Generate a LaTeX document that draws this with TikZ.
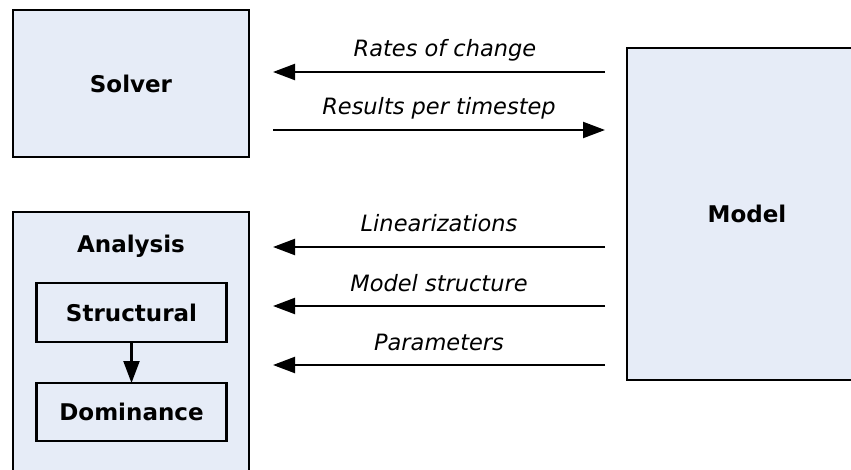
\documentclass[tikz,border=0pt]{standalone}
\usepackage{fontspec}
\setmainfont{DejaVu Sans}
\usetikzlibrary{positioning,arrows.meta}
\definecolor{boxblue}{RGB}{230,236,247}

\begin{document}
\begin{tikzpicture}[x=1pt, y=-1pt,
  block/.style={draw=black, line width=2.4pt, fill=boxblue, inner sep=0pt, outer sep=0pt,
    font=\fontsize{23}{27}\selectfont\bfseries, align=center},
  title/.style={inner sep=0pt, font=\fontsize{23}{27}\selectfont\bfseries},
  flow/.style={line width=2.2pt, -{Triangle[length=22pt, width=16pt]}},
  flowlabel/.style={anchor=base, yshift=15pt, inner sep=0pt,
    font=\fontsize{22.5}{27}\selectfont\itshape}]

  \useasboundingbox (0,0) rectangle (851,470);
  \clip (0,0) rectangle (851,470);

  % Solver and Model, the two ends of the exchange
  \node [block, minimum width=236pt, minimum height=147pt] (solver) at (131,83.5) {Solver};
  \node [block, minimum width=240pt, minimum height=332pt] (model) at (747,214) {Model};

  % Analysis holds the two analysis steps
  \node [block, minimum width=236pt, minimum height=280pt] (analysis) at (131,352) {};
  \node [title] (analysistitle) at (131,246) {Analysis};
  \node [block, minimum width=190pt, minimum height=59pt] (structural) at (131.5,312.5) {Structural};
  \node [block, minimum width=190pt, minimum height=58pt, below=41pt of structural] (dominance) {Dominance};
  \draw [flow] (structural) -- (dominance);

  % where the arrows leave or meet the model
  \coordinate (rates) at (605,72);
  \coordinate (results) at (605,130);
  \coordinate (lin) at (605,247);
  \coordinate (struct) at (605,306);
  \coordinate (params) at (605,365);

  \draw [flow] (rates) -- ([xshift=24pt]rates -| solver.east)
    node [flowlabel, midway, xshift=6pt] {Rates of change};
  \draw [flow] ([xshift=24pt]results -| solver.east) -- (results)
    node [flowlabel, midway] {Results per timestep};
  \draw [flow] (lin) -- ([xshift=24pt]lin -| analysis.east)
    node [flowlabel, midway] {Linearizations};
  \draw [flow] (struct) -- ([xshift=24pt]struct -| analysis.east)
    node [flowlabel, midway] {Model structure};
  \draw [flow] (params) -- ([xshift=24pt]params -| analysis.east)
    node [flowlabel, midway] {Parameters};
\end{tikzpicture}
\end{document}
